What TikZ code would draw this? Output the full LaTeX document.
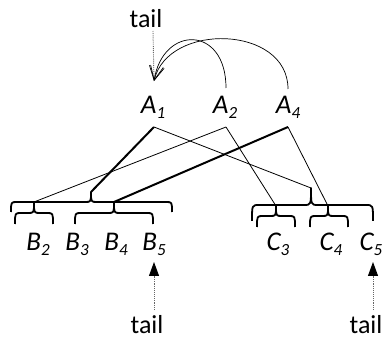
\documentclass[tikz,border=0pt]{standalone}
\usepackage{fontspec}
\setmainfont{Carlito}
\usetikzlibrary{arrows.meta}
\newcommand\lbl[2]{\textit{#1\raisebox{-0.16em}{\fontsize{17pt}{17pt}\selectfont #2}}}
\begin{document}
\begin{tikzpicture}[x=1pt,y=-1pt,
 lab/.style={inner sep=0pt, anchor=base, font=\fontsize{27pt}{27pt}\selectfont},
 tailtxt/.style={inner sep=0pt, anchor=base, font=\fontsize{26pt}{26pt}\selectfont},
 thinline/.style={line width=0.8pt},
 boldline/.style={line width=2pt},
 bracestyle/.style={line width=1.8pt, line join=round},
 dots/.style={densely dotted, black!60, line width=0.9pt},
 curve/.style={line width=0.7pt, -{Straight Barb[length=14pt,width=14pt]}},
 uparrow/.style={dots, -{Triangle[length=14pt,width=10pt,color=black]}}]
\useasboundingbox (0,0) rectangle (383,339);

% labels
\node[lab] (A1) at (153,114) {\lbl{A}{1}};
\node[lab] (A2) at (225,114) {\lbl{A}{2}};
\node[lab] (A4) at (288,114) {\lbl{A}{4}};
\node[lab] (B2) at (38,251) {\lbl{B}{2}};
\node[lab] (B3) at (77,251) {\lbl{B}{3}};
\node[lab] (B4) at (116,251) {\lbl{B}{4}};
\node[lab] (B5) at (154,251) {\lbl{B}{5}};
\node[lab] (C3) at (278,251) {\lbl{C}{3}};
\node[lab] (C4) at (331,251) {\lbl{C}{4}};
\node[lab] (C5) at (371,251) {\lbl{C}{5}};
\node[tailtxt] (tailT) at (146,28) {tail};
\node[tailtxt] (tailB) at (147,333) {tail};
\node[tailtxt] (tailC) at (366,333) {tail};

% anchor points
\coordinate (a1t) at (154,81);
\coordinate (tT) at (153,31);
\coordinate (a2t) at (226,88);
\coordinate (a4t) at (288,89);
\coordinate (a1b) at (154,127);
\coordinate (a2b) at (226,127);
\coordinate (a4b) at (288,127);
\coordinate (bB) at (91,192);
\coordinate (bB2) at (34,202);
\coordinate (bB5) at (114,202);
\coordinate (bC) at (311,188);
\coordinate (bC3) at (276,206);
\coordinate (bC4) at (328,206);
\coordinate (b5t) at (154,262);
\coordinate (b5d) at (154,310);
\coordinate (c5t) at (373,262);
\coordinate (c5d) at (373,310);

% braces
\draw[bracestyle] (11,212) .. controls (11,202) .. (17,202) -- (85,202) .. controls (91,202) .. (bB) .. controls (91,202) .. (97,202) -- (166,202) .. controls (172,202) .. (172,212);
\draw[bracestyle] (15,224) .. controls (15,213) .. (21,213) -- (28,213) .. controls (34,213) .. (bB2) .. controls (34,213) .. (40,213) -- (47,213) .. controls (53,213) .. (53,224);
\draw[bracestyle] (75,224) .. controls (75,213) .. (81,213) -- (108,213) .. controls (114,213) .. (bB5) .. controls (114,213) .. (120,213) -- (147,213) .. controls (153,213) .. (153,224);
\draw[bracestyle] (252,221) .. controls (252,205) .. (259,205) -- (304,205) .. controls (311,205) .. (bC) .. controls (311,205) .. (318,205) -- (366,205) .. controls (373,205) .. (373,221);
\draw[bracestyle] (257,227) .. controls (257,216) .. (263,216) -- (270,216) .. controls (276,216) .. (bC3) .. controls (276,216) .. (282,216) -- (289,216) .. controls (295,216) .. (295,227);
\draw[bracestyle] (310,227) .. controls (310,216) .. (316,216) -- (322,216) .. controls (328,216) .. (bC4) .. controls (328,216) .. (334,216) -- (342,216) .. controls (348,216) .. (348,227);

% connectors
\draw[boldline] (a1b) -- (bB);
\draw[thinline] (a1b) -- (bC);
\draw[thinline] (a2b) -- (bB2);
\draw[thinline] (a2b) -- (bC3);
\draw[boldline] (a4b) -- (bB5);
\draw[thinline] (a4b) -- (bC4);

% top
\draw[dots] (tT) -- (a1t);
\draw[curve] (a2t) .. controls (226,25) and (163,25) .. (a1t);
\draw[curve] (a4t) .. controls (288,25) and (168,22) .. (a1t);

% bottom tails
\draw[uparrow] (b5d) -- (b5t);
\draw[uparrow] (c5d) -- (c5t);
\end{tikzpicture}
\end{document}
